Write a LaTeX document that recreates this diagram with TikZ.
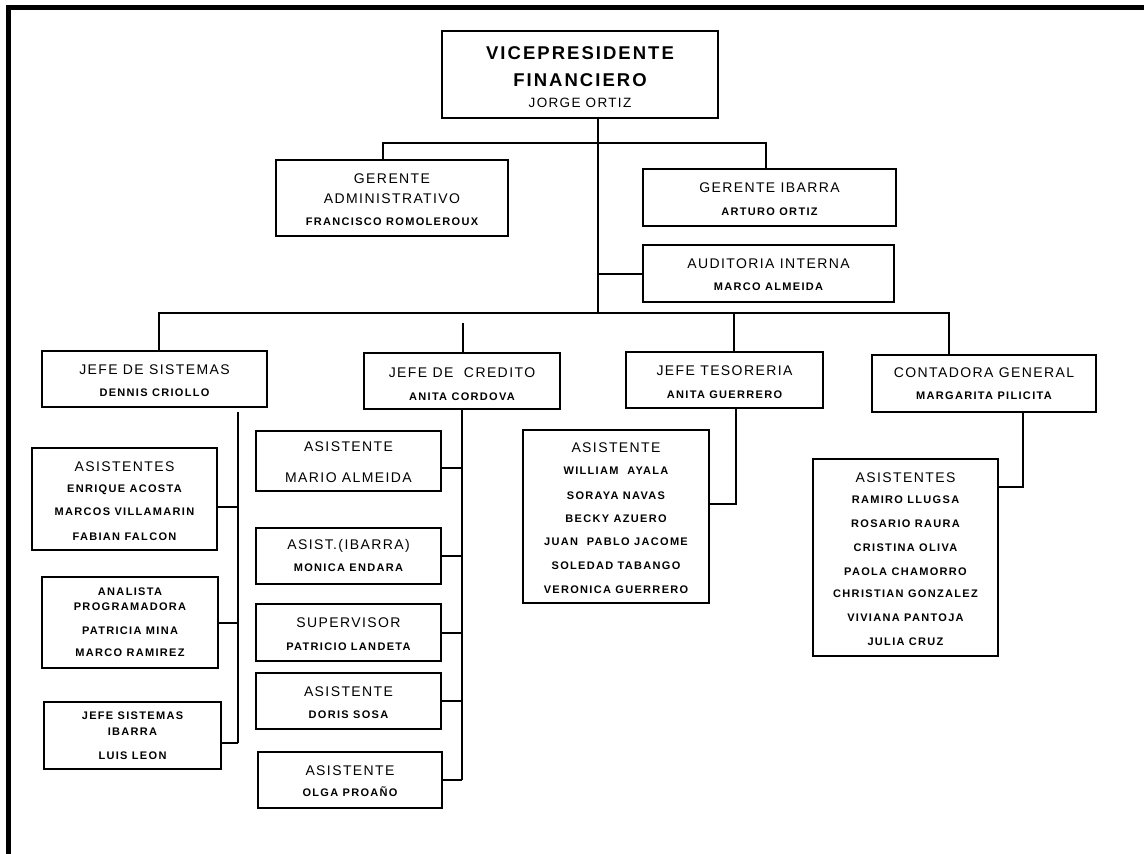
\documentclass[tikz,border=0pt]{standalone}
\usepackage{fontspec}
\setmainfont{Liberation Sans}
\newfontfamily\tfam{Liberation Sans}[LetterSpace=10]
\newfontfamily\nfam{Liberation Sans}[LetterSpace=12]
\newfontfamily\vfam{Liberation Sans}[LetterSpace=11]
\newcommand\tfont{\tfam\fontsize{14}{16}\selectfont}
\newcommand\nfont{\nfam\bfseries\fontsize{11}{13}\selectfont}
\newcommand\vfont{\vfam\bfseries\fontsize{18.5}{21}\selectfont}
\newcommand\jfont{\tfam\fontsize{13.5}{15}\selectfont}

\tikzset{
  box/.style={draw=black, line width=1.5pt, fill=white, inner sep=0pt, rectangle},
  link/.style={draw=black, line width=1.5pt},
  tl/.style={font=\tfont, anchor=base, inner sep=0pt, yshift=-5pt},
  nl/.style={font=\nfont, anchor=base, inner sep=0pt, yshift=-3.9pt},
  vl/.style={font=\vfont, anchor=base, inner sep=0pt, yshift=-6.6pt},
  jl/.style={font=\jfont, anchor=base, inner sep=0pt, yshift=-4.8pt},
}
% box from its corners: name, left, top, right, bottom
\newcommand\orgbox[5]{\node[box, minimum width={#4-#2}, minimum height={#5-#3}] (#1) at ({(#2+#4)/2},{(#3+#5)/2}) {};}

\begin{document}
\begin{tikzpicture}[x=1pt, y=-1pt]
\useasboundingbox (0,0) rectangle (1144,854);
\fill[white] (0,0) rectangle (1144,854);
% page frame (top and left edges)
\fill[black] (6,5) rectangle (1144,9.5);
\fill[black] (6,5) rectangle (10.5,854);

% ---------- boxes ----------
\orgbox{vp}{442}{31}{718}{118}
\orgbox{ga}{276}{160}{508}{236}
\orgbox{gi}{643}{169}{896}{226}
\orgbox{ai}{643}{245}{894}{302}
\orgbox{js}{42}{351}{267}{407}
\orgbox{jc}{364}{353}{560}{409}
\orgbox{jt}{626}{352}{823}{408}
\orgbox{cg}{872}{355}{1096}{412}
\orgbox{sa}{32}{448}{217}{550}
\orgbox{sb}{42}{577}{218}{668}
\orgbox{sc}{44}{702}{221}{769}
\orgbox{ca}{256}{431}{441}{491}
\orgbox{cb}{256}{528}{441}{584}
\orgbox{cc}{256}{604}{441}{661}
\orgbox{cd}{256}{673}{441}{729}
\orgbox{ce}{258}{752}{442}{808}
\orgbox{ta}{523}{430}{709}{603}
\orgbox{ka}{813}{459}{998}{656}

% ---------- texts ----------
\node[vl] (vp1) at (580,53) {VICEPRESIDENTE};
\node[vl] (vp2) at (580,80) {FINANCIERO};
\node[jl] (vp3) at (580,103) {JORGE ORTIZ};

\node[tl] (ga1) at (392,178) {GERENTE};
\node[tl] (ga2) at (392,198) {ADMINISTRATIVO};
\node[nl] (ga3) at (392,222) {FRANCISCO ROMOLEROUX};

\node[tl] (gi1) at (769.5,187) {GERENTE IBARRA};
\node[nl] (gi2) at (769.5,212) {ARTURO ORTIZ};

\node[tl] (ai1) at (768.5,263) {AUDITORIA INTERNA};
\node[nl] (ai2) at (768.5,287) {MARCO ALMEIDA};

\node[tl] (js1) at (154.5,369) {JEFE DE SISTEMAS};
\node[nl] (js2) at (154.5,393) {DENNIS CRIOLLO};

\node[tl] (jc1) at (462,372) {JEFE DE\ \ CREDITO};
\node[nl] (jc2) at (462,397) {ANITA CORDOVA};

\node[tl] (jt1) at (724.5,370) {JEFE TESORERIA};
\node[nl] (jt2) at (724.5,395) {ANITA GUERRERO};

\node[tl] (cg1) at (984,372) {CONTADORA GENERAL};
\node[nl] (cg2) at (984,396) {MARGARITA PILICITA};

\node[tl] (sa1) at (124.5,466) {ASISTENTES};
\node[nl] (sa2) at (124.5,489) {ENRIQUE ACOSTA};
\node[nl] (sa3) at (124.5,512) {MARCOS VILLAMARIN};
\node[nl] (sa4) at (124.5,537) {FABIAN FALCON};

\node[nl] (sb1) at (130,592) {ANALISTA};
\node[nl] (sb2) at (130,607) {PROGRAMADORA};
\node[nl] (sb3) at (130,631) {PATRICIA MINA};
\node[nl] (sb4) at (130,653) {MARCO RAMIREZ};

\node[nl] (sc1) at (132.5,716) {JEFE SISTEMAS};
\node[nl] (sc2) at (132.5,732) {IBARRA};
\node[nl] (sc3) at (132.5,756) {LUIS LEON};

\node[tl] (ca1) at (348.5,446) {ASISTENTE};
\node[tl] (ca2) at (348.5,477) {MARIO ALMEIDA};
\node[tl] (cb1) at (348.5,544) {ASIST.(IBARRA)};
\node[nl] (cb2) at (348.5,568) {MONICA ENDARA};
\node[tl] (cc1) at (348.5,622) {SUPERVISOR};
\node[nl] (cc2) at (348.5,647) {PATRICIO LANDETA};
\node[tl] (cd1) at (348.5,691) {ASISTENTE};
\node[nl] (cd2) at (348.5,715) {DORIS SOSA};
\node[tl] (ce1) at (350,770) {ASISTENTE};
\node[nl] (ce2) at (350,793) {OLGA PROAÑO};

\node[tl] (ta1) at (616,447) {ASISTENTE};
\node[nl] (ta2) at (616,471) {WILLIAM\ \ AYALA};
\node[nl] (ta3) at (616,496) {SORAYA NAVAS};
\node[nl] (ta4) at (616,519) {BECKY AZUERO};
\node[nl] (ta5) at (616,542) {JUAN\ \ PABLO JACOME};
\node[nl] (ta6) at (616,566) {SOLEDAD TABANGO};
\node[nl] (ta7) at (616,590) {VERONICA GUERRERO};

\node[tl] (ka1) at (905.5,477) {ASISTENTES};
\node[nl] (ka2) at (905.5,500) {RAMIRO LLUGSA};
\node[nl] (ka3) at (905.5,524) {ROSARIO RAURA};
\node[nl] (ka4) at (905.5,548) {CRISTINA OLIVA};
\node[nl] (ka5) at (905.5,572) {PAOLA CHAMORRO};
\node[nl] (ka6) at (905.5,594) {CHRISTIAN GONZALEZ};
\node[nl] (ka7) at (905.5,618) {VIVIANA PANTOJA};
\node[nl] (ka8) at (905.5,642) {JULIA CRUZ};

% ---------- connectors ----------
\coordinate (trunk) at (598,313);
\coordinate (ua) at (383,143);
\coordinate (ub) at (766,143);
\draw[link] (vp.south -| trunk) -- (trunk);
\draw[link] (ga.north -| ua) -- (ua) -- (ub) -- (gi.north -| ub);
\path (ai.west) ++(0,0.5) coordinate (aic);
\draw[link] (aic) -- (aic -| trunk);

\coordinate (la) at (159,313);
\coordinate (lb) at (463,323);
\coordinate (lc) at (734,313);
\coordinate (ld) at (949,313);
\draw[link] (js.north -| la) -- (la) -- (ld) -- (cg.north -| ld);
\draw[link] (lb) -- (jc.north -| lb);
\draw[link] (lc) -- (jt.north -| lc);

% sistemas branch
\coordinate (sv) at (238,412);
\path (sa.east) ++(0,8) coordinate (sac);
\path (sb.east) ++(0,0.5) coordinate (sbc);
\path (sc.east) ++(0,7.5) coordinate (scc);
\draw[link] (sv) -- (sv |- scc);
\draw[link] (sac) -- (sac -| sv);
\draw[link] (sbc) -- (sbc -| sv);
\draw[link] (scc) -- (scc -| sv);

% credito branch
\coordinate (cv) at (462,409);
\path (ca.east) ++(0,7) coordinate (cac);
\path (cc.east) ++(0,0.5) coordinate (ccc);
\draw[link] (jc.south -| cv) -- (cv |- ce.east);
\draw[link] (cac) -- (cac -| cv);
\draw[link] (cb.east) -- (cb.east -| cv);
\draw[link] (ccc) -- (ccc -| cv);
\draw[link] (cd.east) -- (cd.east -| cv);
\draw[link] (ce.east) -- (ce.east -| cv);

% tesoreria branch
\coordinate (tv) at (736,408);
\path (ta.east) ++(0,-12.5) coordinate (tac);
\draw[link] (jt.south -| tv) -- (tv |- tac) -- (tac);

% contabilidad branch
\coordinate (kv) at (1023,412);
\path (ka.east) ++(0,-70.5) coordinate (kac);
\draw[link] (cg.south -| kv) -- (kv |- kac) -- (kac);
\end{tikzpicture}
\end{document}
